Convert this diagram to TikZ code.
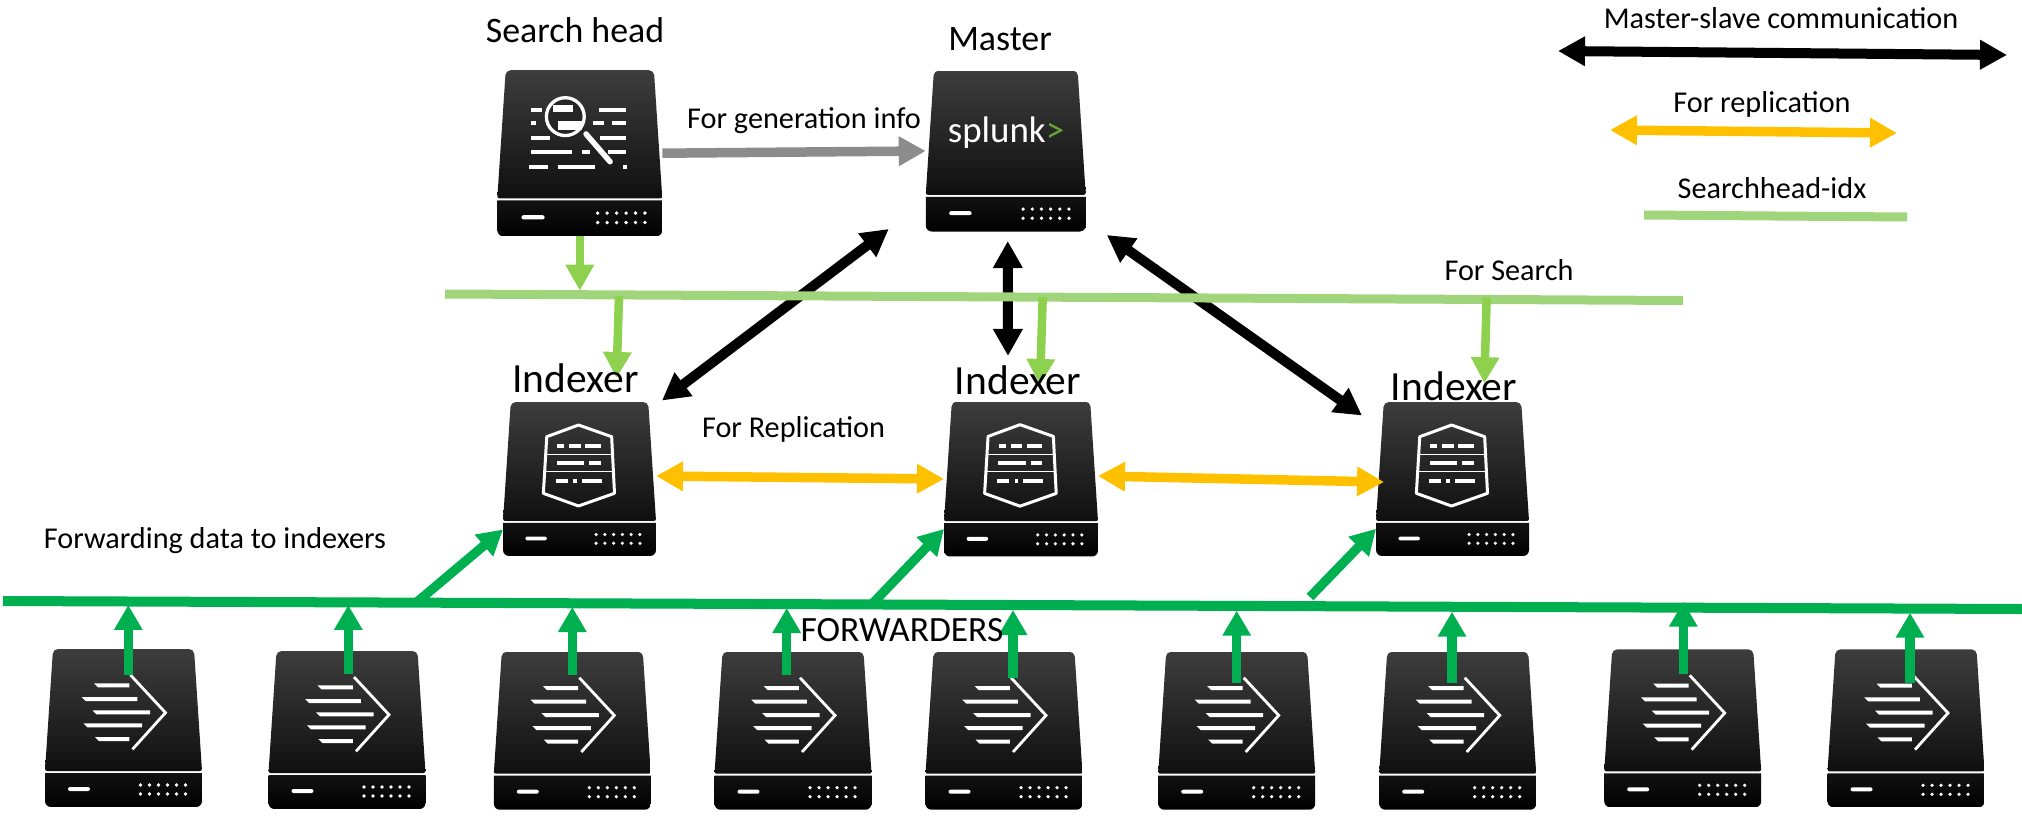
\documentclass[tikz,border=0pt]{standalone}
\usepackage{fontspec}
\setmainfont{Carlito}
\usetikzlibrary{arrows.meta}
\definecolor{blackarrow}{HTML}{000000}
\definecolor{greyarrow}{HTML}{8C8C8C}
\definecolor{replarrow}{HTML}{FFC000}
\definecolor{searcharrow}{HTML}{8ED14F}
\definecolor{searchbus}{HTML}{A0D57C}
\definecolor{fwdgreen}{HTML}{00B050}
\definecolor{logogreen}{HTML}{65A637}
\newcommand{\wbar}[3]{\fill[white] (#1,#3-2) rectangle (#2,#3+2);}
\newcommand{\fbar}[3]{\fill[white] (#1,#3-2) -- (#2,#3-2) -- (#2,#3+2) -- (#1+4,#3+2) -- cycle;}
% body of a server, 157 wide
\newcommand{\srvbody}{
    \shade[top color=black!76, bottom color=black!94, rounded corners=0.05cm] (-70.5,-79) -- (70.5,-79) [rounded corners=0.02cm] -- (78.5,43) -- (-78.5,43) [rounded corners=0.05cm] -- cycle;
    \shade[top color=black!93, bottom color=black] (-78.5,45) -- (78.5,45) [rounded corners=0.06cm] -- (78.5,79) -- (-78.5,79) [sharp corners] -- cycle;
    \fill[white, rounded corners=0.02cm] (-55.5,59) rectangle (-33.5,63);
    \fill[white] (17,57) circle (1.8) (26,57) circle (1.8) (35,57) circle (1.8) (44,57) circle (1.8) (53,57) circle (1.8) (62,57) circle (1.8);
    \fill[white] (17,66) circle (1.8) (26,66) circle (1.8) (35,66) circle (1.8) (44,66) circle (1.8) (53,66) circle (1.8) (62,66) circle (1.8);
}
\newcommand{\fwdglyph}{
    \fbar{-29.5}{5.8}{-42.7}
    \fbar{-41.8}{13.8}{-29}
    \fbar{-31}{26.5}{-15.7}
    \fbar{-40}{18.5}{-2.7}
    \fbar{-28.5}{5.8}{11}
    \draw[white, line width=0.028cm] (7,-53) -- (42,-15.3) -- (9,21.3);
}
\newcommand{\idxglyph}{
    \draw[white, line width=0.03cm, line join=round] (-1,-55.4) -- (33,-43.4) -- (35.9,14.7) -- (-1,27.7) -- (-37.1,14.7) -- (-33.6,-43.4) -- cycle;
    \draw[white, line width=0.012cm] (-33.6,-25.3) -- (33.6,-25.3) (-34.5,-7.5) -- (34.5,-7.5);
    \wbar{-22.8}{-15.7}{-33.8} \wbar{-10.4}{1.2}{-33.8} \wbar{5.6}{21.7}{-33.8}
    \wbar{-23.4}{4.6}{-16.1} \wbar{10}{21.7}{-16.1}
    \wbar{-24}{-12.1}{2} \wbar{-6.3}{-2.9}{2} \wbar{2.2}{22.7}{2}
}
\newcommand{\searchglyph}{
    \wbar{-46.8}{-36.3}{-41.4} \wbar{18.6}{44}{-41.4}
    \wbar{-46.8}{-41.7}{-28.6} \wbar{13}{23.1}{-28.6} \wbar{31.1}{44}{-28.6}
    \wbar{-46.8}{-28.4}{-14.5} \wbar{19.3}{44}{-14.5}
    \wbar{-46.8}{-7.8}{-0.8} \wbar{1.8}{9.7}{-0.8} \wbar{27.2}{44}{-0.8}
    \wbar{-48}{-30}{13} \wbar{-21}{14.5}{13} \wbar{41.4}{45.2}{13}
    \draw[white, line width=0.055cm, line cap=round] (5.9,-18.3) -- (28.8,8.1);
    \draw[white, line width=0.033cm, fill=black!85] (-13.8,-34.8) circle (18);
    \fill[white] (-25.2,-45.9) rectangle (-6.2,-39.5);
    \fill[white] (-21,-30.7) rectangle (2,-22.1);
}
\begin{document}
\begin{tikzpicture}[x=0.01cm, y=-0.01cm,
    server/.style n args={2}{inner sep=0pt, outer sep=0pt, minimum size=#1*0.01cm,
        path picture={\begin{scope}[shift={(path picture bounding box.center)}, x=#1*0.01cm/157, y=-#1*0.01cm/157]\srvbody #2\end{scope}}},
    lab/.style={anchor=base, inner sep=0pt, font=\fontsize{8.6}{10}\selectfont},
    biglab/.style={anchor=base, inner sep=0pt, font=\fontsize{11.8}{13}\selectfont},
    toplab/.style={anchor=base, inner sep=0pt, font=\fontsize{10.2}{12}\selectfont},
    ctrl/.style={line width=0.1cm, draw=blackarrow, fill=blackarrow, {Triangle[length=0.27cm, width=0.28cm]}-{Triangle[length=0.27cm, width=0.28cm]}},
    genarrow/.style={line width=0.095cm, draw=greyarrow, fill=greyarrow, -{Triangle[length=0.27cm, width=0.28cm]}},
    repl/.style={line width=0.095cm, draw=replarrow, fill=replarrow, {Triangle[length=0.27cm, width=0.28cm]}-{Triangle[length=0.27cm, width=0.28cm]}},
    searchline/.style={line width=0.09cm, draw=searchbus},
    sarrow/.style={line width=0.085cm, draw=searcharrow, fill=searcharrow, -{Triangle[length=0.26cm, width=0.27cm]}},
    fwdline/.style={line width=0.1cm, draw=fwdgreen},
    farrow/.style={line width=0.093cm, draw=fwdgreen, fill=fwdgreen, -{Triangle[length=0.25cm, width=0.27cm]}}]
    \useasboundingbox (0,0) rectangle (2022,815);

    % Servers
    \node[server={165}{\searchglyph}] (search) at (579.8,153.2) {};
    \node[server={160}{}] (master) at (1005.75,151) {};

    \node[server={153}{\idxglyph}] (idx-1) at (579.5,479) {};
    \node[server={154}{\idxglyph}] (idx-2) at (1021,479) {};
    \node[server={153}{\idxglyph}] (idx-3) at (1452.5,479) {};

    \node[server={157}{\fwdglyph}] (fwd-1) at (123.5,728) {};
    \node[server={157}{\fwdglyph}] (fwd-2) at (347,730) {};
    \node[server={157}{\fwdglyph}] (fwd-3) at (572.3,730.7) {};
    \node[server={157}{\fwdglyph}] (fwd-4) at (793,730.7) {};
    \node[server={157}{\fwdglyph}] (fwd-5) at (1004,730.7) {};
    \node[server={157}{\fwdglyph}] (fwd-6) at (1236.7,730.7) {};
    \node[server={157}{\fwdglyph}] (fwd-7) at (1457.7,730.7) {};
    \node[server={157}{\fwdglyph}] (fwd-8) at (1682.7,728.3) {};
    \node[server={157}{\fwdglyph}] (fwd-9) at (1906,728.3) {};

    \node[font=\fontsize{10.5}{12}\selectfont, anchor=base, inner sep=0pt, text=white] (logo) at (1006,142) {splunk\textcolor{logogreen}{>}};

    % Free ends
    \coordinate (sbus-l) at (445,294);
    \coordinate (sbus-r) at (1683,300.5);
    \coordinate (sbus-1) at (619,296);
    \coordinate (sbus-2) at (1042.7,297);
    \coordinate (sbus-3) at (1486.7,297);
    \coordinate (fbus-l) at (3,601);
    \coordinate (fbus-r) at (2022,609);
    \coordinate (fbus-1) at (417,602);
    \coordinate (fbus-2) at (873,603);
    \coordinate (fbus-3) at (1310,597);
    \coordinate (key-ctrl-l) at (1558,51);
    \coordinate (key-ctrl-r) at (2007,55);
    \coordinate (key-repl-l) at (1610,130);
    \coordinate (key-repl-r) at (1897,133);
    \coordinate (key-search-l) at (1644,215);
    \coordinate (key-search-r) at (1907,217);

    % Master to indexers
    \draw[ctrl] ([xshift=-0.37cm, yshift=0.02cm]master.south west) -- ([xshift=0.06cm, yshift=0.02cm]idx-1.north east);
    \draw[ctrl] ([xshift=0.02cm, yshift=-0.1cm]master.south) -- ([xshift=-0.13cm, yshift=0.46cm]idx-2.north);
    \draw[ctrl] ([xshift=0.21cm, yshift=-0.04cm]master.south east) -- ([xshift=-0.14cm, yshift=-0.13cm]idx-3.north west);

    % Search side
    \draw[searchline] (sbus-l) -- (sbus-r);
    \draw[sarrow] (search.south) -- ([yshift=-0.55cm]search.south);
    \draw[sarrow] (sbus-1) -- ([xshift=0.37cm, yshift=0.245cm]idx-1.north);
    \draw[sarrow] (sbus-2) -- ([xshift=0.19cm, yshift=0.17cm]idx-2.north);
    \draw[sarrow] (sbus-3) -- ([xshift=0.318cm, yshift=0.193cm]idx-3.north);
    \draw[genarrow] (search.east) -- (master.west);

    % Replication
    \draw[repl] ([yshift=0.03cm]idx-1.east) -- (idx-2.west);
    \draw[repl] ([yshift=0.03cm]idx-2.east) -- ([xshift=0.08cm, yshift=-0.03cm]idx-3.west);

    % Forwarders
    \draw[fwdline] (fbus-l) -- (fbus-r);
    \draw[farrow] (fbus-1) -- ([yshift=0.26cm]idx-1.south west);
    \draw[farrow] (fbus-2) -- ([yshift=0.27cm]idx-2.south west);
    \draw[farrow] (fbus-3) -- ([yshift=0.267cm]idx-3.south west);

    \draw[farrow] ([xshift=0.048cm, yshift=-0.255cm]fwd-1.north) -- ([xshift=0.048cm, yshift=0.445cm]fwd-1.north);
    \draw[farrow] ([xshift=0.013cm, yshift=-0.225cm]fwd-2.north) -- ([xshift=0.013cm, yshift=0.465cm]fwd-2.north);
    \draw[farrow] ([yshift=-0.228cm]fwd-3.north) -- ([yshift=0.452cm]fwd-3.north);
    \draw[farrow] ([xshift=-0.063cm, yshift=-0.228cm]fwd-4.north) -- ([xshift=-0.063cm, yshift=0.442cm]fwd-4.north);
    \draw[farrow] ([xshift=0.09cm, yshift=-0.258cm]fwd-5.north) -- ([xshift=0.09cm, yshift=0.422cm]fwd-5.north);
    \draw[farrow] ([yshift=-0.305cm]fwd-6.north) -- ([yshift=0.415cm]fwd-6.north);
    \draw[farrow] ([xshift=-0.057cm, yshift=-0.305cm]fwd-7.north) -- ([xshift=-0.057cm, yshift=0.405cm]fwd-7.north);
    \draw[farrow] ([xshift=0.006cm, yshift=-0.242cm]fwd-8.north) -- ([xshift=0.006cm, yshift=0.481cm]fwd-8.north);
    \draw[farrow] ([xshift=0.04cm, yshift=-0.329cm]fwd-9.north) -- ([xshift=0.04cm, yshift=0.371cm]fwd-9.north);

    % Key
    \draw[ctrl] (key-ctrl-l) -- (key-ctrl-r);
    \draw[repl] (key-repl-l) -- (key-repl-r);
    \draw[searchline] (key-search-l) -- (key-search-r);

    % Labels
    \node[toplab] (search-lab) at (575,42) {Search head};
    \node[toplab] (master-lab) at (1000,50) {Master};
    \node[biglab] (idx-lab-1) at (575.5,392) {Indexer};
    \node[biglab] (idx-lab-2) at (1018,394) {Indexer};
    \node[biglab] (idx-lab-3) at (1454,400.5) {Indexer};
    \node[lab] (gen-lab) at (804,128) {For generation info};
    \node[lab] (repl-lab) at (793.5,437) {For Replication};
    \node[lab] (fwd-lab) at (215,548) {Forwarding data to indexers};
    \node[lab, font=\fontsize{10.1}{12}\selectfont] (fwdrs-lab) at (902,641.5) {FORWARDERS};
    \node[lab] (sch-lab) at (1509,280) {For Search};
    \node[lab] (key-lab-1) at (1781,28) {Master-slave communication};
    \node[lab] (key-lab-2) at (1762,112) {For replication};
    \node[lab] (key-lab-3) at (1772,198) {Searchhead-idx};

\end{tikzpicture}
\end{document}
